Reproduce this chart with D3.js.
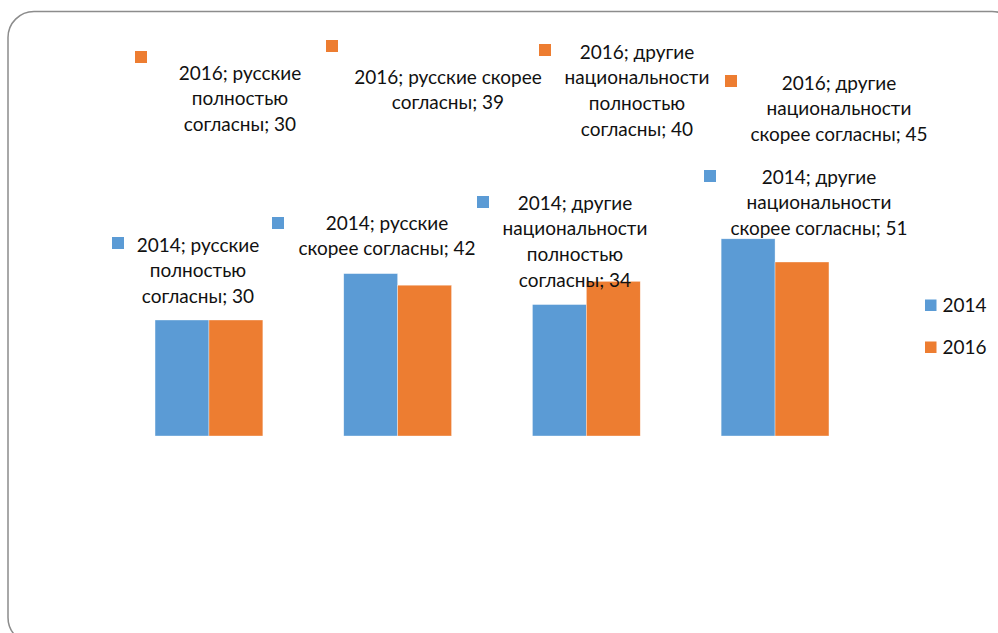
<!DOCTYPE html>
<html>
<head>
<meta charset="utf-8">
<script src="https://cdn.jsdelivr.net/npm/d3@7"></script>
<style>
  html, body { margin: 0; padding: 0; background: #fff; overflow: hidden; }
  svg { display: block; font-family: Lato, "Open Sans", sans-serif; }
</style>
</head>
<body>
<div id="chart"></div>
<script>
const categories = ["русские полностью согласны", "русские скорее согласны",
  "другие национальности полностью согласны", "другие национальности скорее согласны"];
const seriesNames = ["2014", "2016"];
const values2014 = [30, 42, 34, 51];
const values2016 = [30, 39, 40, 45];
const yMax = 60;

// data labels were dragged by hand in the original, so each one keeps its own spot
// [series, category, text lines]
const labelLines = [
  [0, 0, ["2014; русские", "полностью", "согласны; 30"]],
  [0, 1, ["2014; русские", "скорее согласны; 42"]],
  [0, 2, ["2014; другие", "национальности", "полностью", "согласны; 34"]],
  [0, 3, ["2014; другие", "национальности", "скорее согласны; 51"]],
  [1, 0, ["2016; русские", "полностью", "согласны; 30"]],
  [1, 1, ["2016; русские скорее", "согласны; 39"]],
  [1, 2, ["2016; другие", "национальности", "полностью", "согласны; 40"]],
  [1, 3, ["2016; другие", "национальности", "скорее согласны; 45"]]
];
// text centre x, first line y, marker centre x/y
const labelSpots = [
  {tx: 198, ty: 245, mx: 118, my: 243},
  {tx: 387, ty: 223, mx: 278, my: 223},
  {tx: 575, ty: 203, mx: 483, my: 202},
  {tx: 819, ty: 177, mx: 710, my: 176},
  {tx: 240, ty: 73,  mx: 141, my: 57},
  {tx: 448, ty: 77,  mx: 332, my: 46},
  {tx: 637, ty: 52,  mx: 545, my: 50},
  {tx: 839, ty: 83,  mx: 731, my: 81}
];

const width = 998, height = 633;
const colors = ["#5B9BD5", "#ED7D31"];
const lineH = 25.8;
const fontSize = 19;

const svg = d3.select("#chart").append("svg")
  .attr("width", width)
  .attr("height", height);

svg.append("rect")
  .attr("x", 8).attr("y", 11.5)
  .attr("width", 1010).attr("height", 632)
  .attr("rx", 26).attr("ry", 26)
  .attr("fill", "#fff")
  .attr("stroke", "#8c8c8c")
  .attr("stroke-width", 1.5);

const x = d3.scaleBand()
  .domain(categories)
  .range([114.6, 869.4])
  .paddingInner(0.4286)
  .paddingOuter(0.2143);

const xs = d3.scaleBand()
  .domain(seriesNames)
  .range([0, x.bandwidth()]);

const y = d3.scaleLinear()
  .domain([0, yMax])
  .range([436, 204]);

const series = [values2014, values2016];

const groups = svg.append("g").selectAll("g")
  .data(categories)
  .join("g")
  .attr("transform", d => `translate(${x(d)},0)`);

groups.selectAll("rect")
  .data((d, i) => seriesNames.map((s, j) => ({s, v: series[j][i], j})))
  .join("rect")
  .attr("x", d => xs(d.s))
  .attr("y", d => y(d.v))
  .attr("width", xs.bandwidth())
  .attr("height", d => y(0) - y(d.v))
  .attr("fill", d => colors[d.j])
  .attr("stroke", "#fff")
  .attr("stroke-opacity", 0.6)
  .attr("stroke-width", 0.6);

const labels = svg.append("g").selectAll("g")
  .data(labelLines)
  .join("g");

labels.append("rect")
  .attr("x", (d, i) => labelSpots[i].mx - 6)
  .attr("y", (d, i) => labelSpots[i].my - 6)
  .attr("width", 12).attr("height", 12)
  .attr("fill", d => colors[d[0]]);

labels.append("text")
  .attr("text-anchor", "middle")
  .attr("font-size", fontSize)
  .attr("fill", "#111")
  .selectAll("tspan")
  .data((d, i) => d[2].map((t, k) => ({t, k, p: labelSpots[i]})))
  .join("tspan")
  .attr("x", d => d.p.tx)
  .attr("y", d => d.p.ty + d.k * lineH)
  .attr("dy", "0.35em")
  .text(d => d.t);

// legend
const legend = svg.append("g").selectAll("g")
  .data(seriesNames)
  .join("g")
  .attr("transform", (d, i) => `translate(925,${299.5 + i * 42})`);

legend.append("rect")
  .attr("width", 11.5).attr("height", 11.5)
  .attr("fill", (d, i) => colors[i]);

legend.append("text")
  .attr("x", 17.5).attr("y", 6)
  .attr("dy", "0.35em")
  .attr("font-size", fontSize)
  .attr("fill", "#111")
  .text(d => d);
</script>
</body>
</html>
